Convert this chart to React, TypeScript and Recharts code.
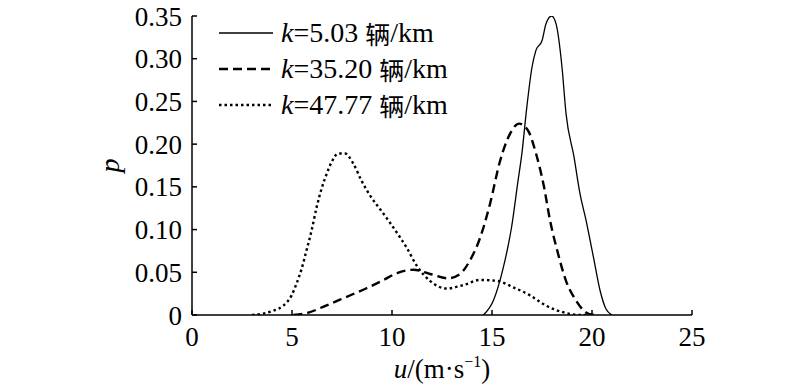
import React from 'react';
import { LineChart, Line, XAxis, YAxis, Legend } from 'recharts';

// speed u (m/s) and probability density p for each density k
const uLow = [14.57, 15.07, 15.57, 15.98, 16.3, 16.5, 16.72, 17.0, 17.2, 17.5, 17.7, 17.98, 18.2, 18.5, 18.7, 19.1, 19.4, 19.7, 20.07, 20.4, 20.7, 21.0];
const pLow = [0, 0.017, 0.056, 0.103, 0.157, 0.19, 0.239, 0.29, 0.31, 0.321, 0.341, 0.35, 0.341, 0.29, 0.236, 0.185, 0.142, 0.111, 0.068, 0.029, 0.007, 0];

const uMid = [5.07, 5.7, 6.7, 7.7, 8.7, 9.5, 10.25, 11.07, 11.9, 12.8, 13.4, 13.9, 14.4, 14.9, 15.4, 15.9, 16.35, 16.8, 17.2, 17.6, 17.9, 18.3, 18.7, 19.2, 19.7, 20.1];
const pMid = [0, 0.002, 0.011, 0.021, 0.031, 0.04, 0.049, 0.053, 0.048, 0.043, 0.048, 0.064, 0.09, 0.13, 0.18, 0.212, 0.224, 0.216, 0.189, 0.15, 0.111, 0.072, 0.04, 0.017, 0.003, 0];

const uHigh = [3.0, 3.4, 4.07, 4.57, 4.98, 5.23, 5.48, 5.73, 5.98, 6.23, 6.48, 6.73, 6.98, 7.3, 7.65, 8.07, 8.48, 8.9, 9.4, 9.9, 10.4, 10.73, 11.23, 11.9, 12.73, 13.57, 14.4, 15.23, 16.1, 16.9, 17.7, 18.6, 19.4, 20.0];
const pHigh = [0, 0.001, 0.005, 0.011, 0.023, 0.037, 0.054, 0.076, 0.099, 0.126, 0.148, 0.165, 0.179, 0.189, 0.189, 0.177, 0.157, 0.14, 0.124, 0.108, 0.091, 0.079, 0.058, 0.04, 0.031, 0.035, 0.041, 0.04, 0.032, 0.023, 0.011, 0.003, 0, 0];

const kValues = ['5.03', '35.20', '47.77'];
const xTicks = [0, 5, 10, 15, 20, 25];
const yTicks = [0, 0.05, 0.1, 0.15, 0.2, 0.25, 0.3, 0.35];

const toRows = (us: number[], ps: number[]) => us.map((u, i) => ({ u, p: ps[i] }));

const FONT = "'Liberation Serif', 'Times New Roman', serif";
const CJK = "'Noto Sans CJK SC', sans-serif";

const renderLegend = (props: any) => {
  const items = [...(props.payload || [])].sort(
    (a: any, b: any) => kValues.indexOf(a.value) - kValues.indexOf(b.value)
  );
  return (
    <div style={{ fontFamily: FONT, fontSize: 28, color: '#000', lineHeight: 1 }}>
      {items.map((entry: any, i: number) => (
        <div key={i} style={{ display: 'flex', alignItems: 'center', height: 36, whiteSpace: 'nowrap' }}>
          <svg width={62} height={10}>
            <line
              x1={0}
              y1={5}
              x2={54}
              y2={5}
              stroke="#000"
              strokeWidth={entry.payload?.strokeWidth ?? 2}
              strokeDasharray={entry.payload?.strokeDasharray}
            />
          </svg>
          <span style={{ fontStyle: 'italic' }}>k</span>
          <span>={entry.value}&nbsp;</span>
          <span style={{ fontFamily: CJK, fontSize: 25 }}>辆</span>
          <span>/km</span>
        </div>
      ))}
    </div>
  );
};

const YLabel = (props: any) => {
  const vb = props.viewBox || {};
  const cy = vb.y + vb.height / 2;
  return (
    <text x={119} y={cy} transform={`rotate(-90 119 ${cy})`} textAnchor="middle" fontFamily={FONT} fontSize={28} fontStyle="italic" fill="#000">
      p
    </text>
  );
};

const XLabel = (props: any) => {
  const vb = props.viewBox || {};
  const cx = vb.x + vb.width / 2;
  return (
    <text x={cx} y={378} textAnchor="middle" fontFamily={FONT} fontSize={27} fill="#000">
      <tspan fontStyle="italic">u</tspan>
      <tspan>/(m·s</tspan>
      <tspan dy={-11} fontSize={16}>−1</tspan>
      <tspan dy={11}>)</tspan>
    </text>
  );
};

export default function App() {
  const tickStyle = { fontFamily: FONT, fontSize: 27, fill: '#000' };
  return (
    <div style={{ position: 'absolute', left: 0, top: 0, background: '#fff' }}>
      <LineChart width={800} height={387} margin={{ top: 16, right: 108, bottom: 0, left: 0 }}>
        <XAxis
          dataKey="u"
          type="number"
          domain={[0, 25]}
          ticks={xTicks}
          height={72}
          tickSize={-5}
          tickMargin={17}
          tick={tickStyle}
          axisLine={{ stroke: '#000', strokeWidth: 1.5 }}
          tickLine={{ stroke: '#000', strokeWidth: 1.5 }}
          label={<XLabel />}
          allowDuplicatedCategory={false}
        />
        <YAxis
          type="number"
          domain={[0, 0.35]}
          ticks={yTicks}
          width={192}
          allowDataOverflow
          tickSize={-5}
          tickMargin={15}
          tick={tickStyle}
          tickFormatter={(v: number) => (v === 0 ? '0' : v.toFixed(2))}
          axisLine={{ stroke: '#000', strokeWidth: 1.5 }}
          tickLine={{ stroke: '#000', strokeWidth: 1.5 }}
          label={<YLabel />}
        />
        <Legend
          layout="vertical"
          verticalAlign="middle"
          align="center"
          content={renderLegend}
          wrapperStyle={{ left: 219, top: 15, width: 320, height: 110 }}
        />
        <Line
          data={toRows(uLow, pLow)}
          name={kValues[0]}
          type="monotone"
          dataKey="p"
          stroke="#000"
          strokeWidth={1.3}
          dot={false}
          activeDot={false}
          isAnimationActive={false}
        />
        <Line
          data={toRows(uMid, pMid)}
          name={kValues[1]}
          type="monotone"
          dataKey="p"
          stroke="#000"
          strokeWidth={2.4}
          strokeDasharray="9 5"
          dot={false}
          activeDot={false}
          isAnimationActive={false}
        />
        <Line
          data={toRows(uHigh, pHigh)}
          name={kValues[2]}
          type="monotone"
          dataKey="p"
          stroke="#000"
          strokeWidth={2.4}
          strokeDasharray="2.5 3"
          dot={false}
          activeDot={false}
          isAnimationActive={false}
        />
      </LineChart>
    </div>
  );
}
